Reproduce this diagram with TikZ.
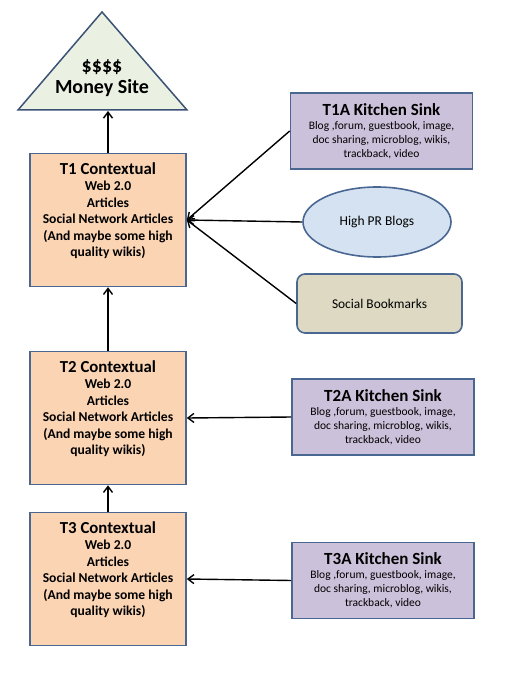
\documentclass[tikz,border=0pt]{standalone}
\usepackage{fontspec}
\setmainfont{Carlito}
\usetikzlibrary{arrows.meta,shapes.geometric}
\definecolor{boxline}{HTML}{4A6792}
\definecolor{peach}{HTML}{FBD4B4}
\definecolor{lavender}{HTML}{CCC1DA}
\definecolor{paleblue}{HTML}{D5E2F2}
\definecolor{khaki}{HTML}{DDD9C3}
\definecolor{palegreen}{HTML}{EBF1E2}
\tikzset{
  tierbox/.style={draw=boxline, line width=1.6pt, fill=peach, align=center,
    minimum width=156pt, minimum height=133pt, inner sep=2pt,
    font=\fontsize{13.6}{16.5}\selectfont\bfseries},
  sinkbox/.style={draw=boxline, line width=1.6pt, fill=lavender, align=center,
    minimum width=182pt, minimum height=76pt, inner sep=2pt,
    font=\fontsize{11.5}{14}\selectfont},
  feed/.style={-{Straight Barb[length=6pt,width=9pt]}, line width=1.4pt}
}
\newcommand{\tierhead}[1]{{\fontsize{16.8}{20}\selectfont #1}}
\newcommand{\sinkhead}[1]{{\fontsize{17}{19}\selectfont\bfseries #1}}
\begin{document}
\begin{tikzpicture}[x=1pt,y=-1pt]
  \useasboundingbox (0,0) rectangle (525,700);

  % Money site
  \draw[draw=boxline!80!black, line width=1.5pt, fill=palegreen]
    (18,110) -- (102,12) -- (187,110) -- cycle;
  \coordinate (base) at (102,111);
  \node[align=center, font=\fontsize{20}{21}\selectfont\bfseries] (money) at (102,78)
    {\$\$\$\$\\Money Site};

  % Tier one
  \node[tierbox] (t1) at (108,220) {\tierhead{T1 Contextual}\\Web 2.0\\Articles\\Social Network Articles\\(And maybe some high\\quality wikis)\\[4pt]};
  \draw[feed] (t1.north) -- (t1.north |- base);

  \node[sinkbox] (t1a) at (381.5,131) {\sinkhead{T1A Kitchen Sink}\\Blog ,forum, guestbook, image,\\doc sharing, microblog, wikis,\\trackback, video};
  \node[ellipse, draw=boxline, line width=1.6pt, fill=paleblue,
    minimum width=148pt, minimum height=70pt,
    font=\fontsize{13.5}{15}\selectfont] (blogs) at (377,222) {High PR Blogs};
  \node[draw=boxline, line width=1.6pt, fill=khaki, rounded corners=8pt,
    minimum width=165pt, minimum height=59pt,
    font=\fontsize{13.4}{15}\selectfont] (bookmarks) at (379.5,303.5) {Social Bookmarks};
  \draw[feed] (t1a.west) -- (t1.east);
  \draw[feed] (blogs.west) -- (t1.east);
  \draw[feed] (bookmarks.west) -- (t1.east);

  % Tier two
  \node[tierbox] (t2) at (108,418) {\tierhead{T2 Contextual}\\Web 2.0\\Articles\\Social Network Articles\\(And maybe some high\\quality wikis)\\[4pt]};
  \draw[feed] (t2.north) -- (t1.south);

  \node[sinkbox] (t2a) at (383,417) {\sinkhead{T2A Kitchen Sink}\\Blog ,forum, guestbook, image,\\doc sharing, microblog, wikis,\\trackback, video};
  \draw[feed] (t2a.west) -- (t2.east);

  % Tier three
  \node[tierbox] (t3) at (108,579) {\tierhead{T3 Contextual}\\Web 2.0\\Articles\\Social Network Articles\\(And maybe some high\\quality wikis)\\[4pt]};
  \draw[feed] (t3.north) -- (t2.south);

  \node[sinkbox] (t3a) at (383,580.5) {\sinkhead{T3A Kitchen Sink}\\Blog ,forum, guestbook, image,\\doc sharing, microblog, wikis,\\trackback, video};
  \draw[feed] (t3a.west) -- (t3.east);
\end{tikzpicture}
\end{document}
